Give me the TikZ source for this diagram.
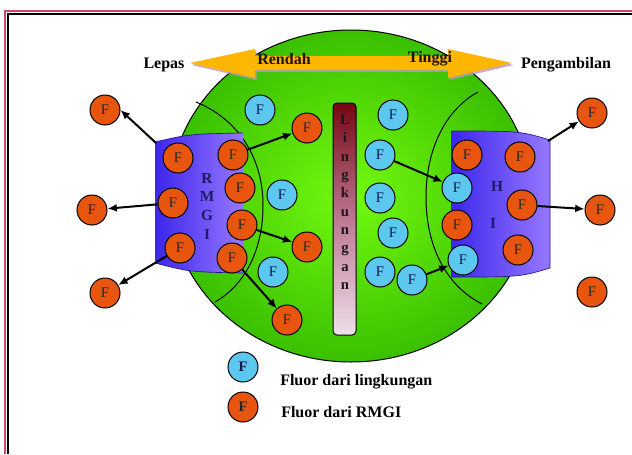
\documentclass[tikz,border=0pt]{standalone}
\usepackage{fontspec}
\setmainfont{Liberation Serif}
\usetikzlibrary{arrows.meta}
\definecolor{forange}{RGB}{232,85,15}
\definecolor{fblue}{RGB}{92,200,240}
\definecolor{glime}{RGB}{115,250,15}
\definecolor{gdark}{RGB}{58,192,0}
\definecolor{pdark}{RGB}{60,38,235}
\definecolor{plight}{RGB}{150,120,255}
\definecolor{arrowor}{RGB}{255,182,0}
\definecolor{arrowsh}{RGB}{185,150,205}
\definecolor{brdpink}{RGB}{205,70,110}
\definecolor{navyc}{RGB}{28,28,100}
\definecolor{maroonc}{RGB}{118,6,18}
\definecolor{midpink}{RGB}{190,120,145}
\definecolor{palepink}{RGB}{238,224,236}
\tikzset{
  fo/.style={circle,draw=black,line width=0.75pt,fill=forange,minimum size=22.5pt,inner sep=0pt,font=\fontsize{11}{12}\selectfont,text=black!85},
  fb/.style={fo,fill=fblue,text=navyc!80!black},
  arr/.style={-{Latex[length=7pt,width=6pt]},line width=1.5pt},
  lbl/.style={font=\fontsize{12}{14}\selectfont\bfseries,inner sep=0pt},
  blk/.style={font=\fontsize{11.5}{13}\selectfont\bfseries,text=navyc,inner sep=0pt,anchor=base},
  barletter/.style={font=\fontsize{11}{13}\selectfont\bfseries,text=black!90,inner sep=0pt,anchor=base},
}
\begin{document}
\begin{tikzpicture}[x=0.75pt,y=-0.75pt]
\useasboundingbox (0,0) rectangle (632,454);
\fill[white] (0,0) rectangle (632,454);
% frame
\draw[brdpink,line width=1.5pt] (5,454) -- (5,10.5) -- (632,10.5);
\draw[black,line width=1.5pt] (7.8,454) -- (7.8,14.3) -- (632,14.3);
% big green body
\shade[inner color=glime,outer color=gdark] (351,196) ellipse [x radius=181,y radius=166];
\draw[line width=0.75pt] (351,196) ellipse [x radius=181,y radius=166];
% inner arcs
\draw[line width=0.75pt] (196,102) .. controls (240,120) and (263,160) .. (263,205) .. controls (263,250) and (245,285) .. (215,302);
\draw[line width=0.75pt] (478,92) .. controls (445,110) and (426,150) .. (426,197) .. controls (426,245) and (445,285) .. (482,304);
% environment bar
\node[draw=black,line width=0.75pt,rounded corners=3pt,minimum width=17.25pt,minimum height=174pt,inner sep=0pt,
      top color=maroonc,bottom color=palepink,middle color=midpink] (bar) at (344.5,219) {};
\foreach \c [count=\i from 0] in {L,i,n,g,k,u,n,g,a,n}
  \node[barletter] (bl\i) at (345,124.5+18.33*\i) {\c};
% RMGI block
\shade[left color=pdark,right color=plight] (155,142) .. controls (190,134) .. (243,133) -- (243,273) .. controls (190,272) .. (155,263) -- cycle;
\draw[pdark!60!black,line width=0.5pt] (155,142) .. controls (190,134) .. (243,133);
\draw[pdark!60!black,line width=0.5pt] (243,273) .. controls (190,272) .. (155,263);
\coordinate (rmgiTL) at (156,143);
\foreach \c [count=\i from 0] in {R,M,G,I}
  \node[blk] (rm\i) at (207,183+18.7*\i) {\c};
% HI block
\shade[left color=pdark,right color=plight] (451,131) .. controls (520,131) .. (550,140) -- (550,268) .. controls (520,277) .. (451,277) -- cycle;
\draw[pdark!60!black,line width=0.5pt] (451,131) .. controls (520,131) .. (550,140) -- (550,268) .. controls (520,277) .. (451,277);
\coordinate (hiTR) at (548,141);
\node[blk] (hH) at (497,191) {H};
\node[blk] (hI) at (493,228) {I};
% fluor particles, left
\node[fo] (oL1) at (105,110) {F};
\node[fo] (oL2) at (92,210) {F};
\node[fo] (oL3) at (105,293) {F};
\node[fo] (r1) at (178,158) {F};
\node[fo] (r2) at (233,155) {F};
\node[fo] (r3) at (240,188) {F};
\node[fo] (r4) at (173,203) {F};
\node[fo] (r5) at (242,225) {F};
\node[fo] (r6) at (180,248) {F};
\node[fo] (r7) at (232,258) {F};
\node[fo] (g1) at (307,128) {F};
\node[fo] (g2) at (307,247) {F};
\node[fo] (g3) at (287,320) {F};
\node[fb] (b1) at (260,110) {F};
\node[fb] (b2) at (282,195) {F};
\node[fb] (b3) at (273,272) {F};
% right
\node[fb] (c1) at (393,115) {F};
\node[fb] (c2) at (380,155) {F};
\node[fb] (c3) at (380,198) {F};
\node[fb] (c4) at (393,233) {F};
\node[fb] (c5) at (380,272) {F};
\node[fb] (c6) at (412,280) {F};
\node[fo] (k1) at (467,155) {F};
\node[fo] (k2) at (520,157) {F};
\node[fo] (k3) at (522,205) {F};
\node[fo] (k4) at (457,225) {F};
\node[fo] (k5) at (518,250) {F};
\node[fb] (h1) at (457,188) {F};
\node[fb] (h2) at (463,260) {F};
\node[fo] (oR1) at (592,113) {F};
\node[fo] (oR2) at (600,210) {F};
\node[fo] (oR3) at (592,292) {F};
% arrows
\draw[arr] (rmgiTL) -- (oL1.east);
\draw[arr] (r4) -- (oL2);
\draw[arr] (r6) -- (oL3);
\draw[arr] (r2) -- (g1);
\draw[arr] (r5) -- (g2);
\draw[arr] (r7) -- (g3);
\draw[arr] (c2) -- (h1);
\draw[arr] (c6) -- (h2);
\draw[arr] (hiTR) -- (oR1);
\draw[arr] (k3) -- (oR2);
% top double arrow
\fill[arrowsh,opacity=0.8,shift={(1.5,2)}] (190,63) -- (255,49) -- (255,56) -- (448,56) -- (448,49) -- (512,63) -- (448,78) -- (448,70) -- (255,70) -- (255,78) -- cycle;
\fill[arrowor] (190,63) -- (255,49) -- (255,56) -- (448,56) -- (448,49) -- (512,63) -- (448,78) -- (448,70) -- (255,70) -- (255,78) -- cycle;
\node[lbl] (lepas) at (164,65) {Lepas};
\node[lbl,text=black!85!brown] (rendah) at (284,59) {Rendah};
\node[lbl,text=black!85!brown] (tinggi) at (430,59) {Tinggi};
\node[lbl] (peng) at (566,65) {Pengambilan};
% legend
\node[fb,font=\fontsize{11}{12}\selectfont\bfseries] (legb) at (243,367) {F};
\node[fo,font=\fontsize{11}{12}\selectfont\bfseries] (lego) at (243,407) {F};
\node[lbl,anchor=west] (legbt) at (280,382) {Fluor dari lingkungan};
\node[lbl,anchor=west] (legot) at (281,412) {Fluor dari RMGI};
\end{tikzpicture}
\end{document}
